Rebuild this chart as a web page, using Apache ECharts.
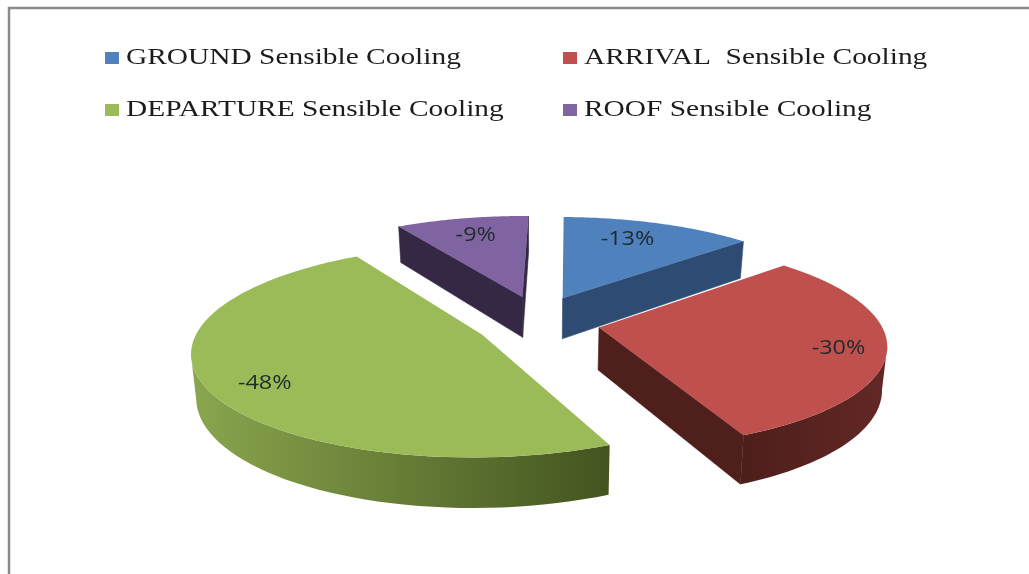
<!DOCTYPE html>
<html>
<head>
<meta charset="utf-8">
<title>Sensible cooling by floor</title>
<script src="https://cdn.jsdelivr.net/npm/echarts@6/dist/echarts.min.js"></script>
<style>
  html, body { margin: 0; padding: 0; background: #fff; }
  #chart { width: 1029px; height: 574px; }
</style>
</head>
<body>
<div id="chart"></div>
<script>
// Share of sensible cooling per floor
const categories = [
  'GROUND Sensible Cooling',
  'ARRIVAL  Sensible Cooling',
  'DEPARTURE Sensible Cooling',
  'ROOF Sensible Cooling'
];
const coolingShares = [-13, -30, -48, -9];
const topColors = ['#4f81bd', '#c0504d', '#9bbb59', '#8064a2'];
const innerWallColors = ['#2d4b73', '#4f1f1c', '#4a5c25', '#352844'];
const outerWallStops = [
  ['#3a5f8c', '#2d4b73'],
  ['#4d1e1b', '#632825'],
  ['#8aa64e', '#43541f'],
  ['#4c3c62', '#352844']
];
const legendSlots = [[105, 58], [563, 58], [105, 110], [563, 110]];
const labelReach = [0.68, 0.815, 0.78, 0.75];
const labelNudge = [[-3, -6], [6, 3], [-5, 9], [0, -1]];

// Tilted, exploded pie: the disc is mapped through a perspective projection
const pie = {
  cx: 538, cy: 322,
  rx: 281, ry: 100,
  perspective: 0.15,
  explodeX: 0.22, explodeY: 0.27,
  thickness: 42,
  taper: 0.015,
  startDeg: 1
};

const total = coolingShares.reduce((sum, v) => sum + Math.abs(v), 0);
const rad = (deg) => deg * Math.PI / 180;

function project(X, Y, z) {
  const s = 1 / (1 - pie.perspective * Y);
  return [
    pie.cx + pie.rx * X * s * (1 - pie.taper * z),
    pie.cy + pie.ry * Y * s + pie.thickness * z * s
  ];
}

function sliceAngles(index) {
  let before = 0;
  for (let i = 0; i < index; i++) before += Math.abs(coolingShares[i]);
  const start = pie.startDeg + before / total * 360;
  const end = start + Math.abs(coolingShares[index]) / total * 360;
  return { start, end, mid: (start + end) / 2 };
}

function slicePoint(angles, deg, reach, z) {
  const midA = rad(angles.mid);
  const a = rad(deg);
  const X = pie.explodeX * Math.sin(midA) + reach * Math.sin(a);
  const Y = -pie.explodeY * Math.cos(midA) - reach * Math.cos(a);
  return project(X, Y, z);
}

function wall(topA, topB, bottomA, bottomB, fill) {
  return {
    type: 'polygon',
    shape: { points: [topA, topB, bottomB, bottomA] },
    style: { fill: fill, stroke: fill, lineWidth: 0.6 }
  };
}

function renderSlice(index) {
  return function (params, api) {
    const share = api.value(0);
    const angles = sliceAngles(index);
    const steps = 72;
    const topArc = [];
    const lowArc = [];
    for (let i = 0; i <= steps; i++) {
      const deg = angles.start + (angles.end - angles.start) * i / steps;
      topArc.push(slicePoint(angles, deg, 1, 0));
      lowArc.push(slicePoint(angles, deg, 1, 1));
    }
    const apexTop = slicePoint(angles, angles.start, 0, 0);
    const apexLow = slicePoint(angles, angles.start, 0, 1);
    const children = [];

    // Walls traversed leftwards on screen face the viewer
    const first = topArc[0];
    const last = topArc[steps];
    if (first[0] < apexTop[0]) {
      children.push(wall(apexTop, first, apexLow, lowArc[0], innerWallColors[index]));
    }
    if (apexTop[0] < last[0]) {
      children.push(wall(last, apexTop, lowArc[steps], apexLow, innerWallColors[index]));
    }

    const seen = [];
    for (let i = 0; i < steps; i++) {
      if (topArc[i + 1][0] < topArc[i][0]) seen.push(i);
    }
    if (seen.length) {
      const a = seen[0];
      const b = seen[seen.length - 1] + 1;
      const outline = topArc.slice(a, b + 1).concat(lowArc.slice(a, b + 1).reverse());
      const stops = outerWallStops[index];
      children.push({
        type: 'polygon',
        shape: { points: outline },
        style: {
          fill: new echarts.graphic.LinearGradient(0, 0, 1, 0, [
            { offset: 0, color: stops[0] },
            { offset: 1, color: stops[1] }
          ])
        }
      });
    }

    children.push({
      type: 'polygon',
      shape: { points: [apexTop].concat(topArc) },
      style: { fill: topColors[index] }
    });

    const at = slicePoint(angles, angles.mid, labelReach[index], 0);
    children.push({
      type: 'text',
      x: at[0] + labelNudge[index][0], y: at[1] + labelNudge[index][1], scaleX: 1.2,
      style: {
        x: 0, y: 0,
        text: share + '%',
        align: 'center', verticalAlign: 'middle',
        font: '19.5px "Open Sans", sans-serif',
        fill: '#1f2a2a'
      }
    });
    return { type: 'group', children: children };
  };
}

// Rear slices paint first so the nearer ones can overlap them
const paintOrder = [2, 1, 3, 0];

const series = categories.map((name, i) => ({
  type: 'custom',
  name: name,
  coordinateSystem: 'none',
  silent: true,
  z: paintOrder[i],
  renderItem: renderSlice(i),
  data: [[coolingShares[i]]]
}));

const legendGraphics = [];
categories.forEach((name, i) => {
  const slot = legendSlots[i];
  legendGraphics.push({
    type: 'rect',
    shape: { x: slot[0], y: slot[1] - 6, width: 14, height: 12 },
    style: { fill: topColors[i] }
  });
  legendGraphics.push({
    type: 'text',
    x: slot[0] + 21, y: slot[1], scaleX: 1.225,
    style: {
      x: 0, y: 0,
      text: name,
      align: 'left', verticalAlign: 'middle',
      font: '24px "Liberation Serif", serif',
      fill: '#1c1c1c'
    }
  });
});

const frame = {
  type: 'polyline',
  shape: { points: [[9, 574], [9, 8], [1029, 8]] },
  style: { stroke: '#8a8a8a', lineWidth: 2.5, fill: null }
};

const chart = echarts.init(document.getElementById('chart'), null, { renderer: 'canvas' });
chart.setOption({
  animation: false,
  backgroundColor: '#ffffff',
  graphic: { elements: [frame].concat(legendGraphics) },
  series: series
});
</script>
</body>
</html>
